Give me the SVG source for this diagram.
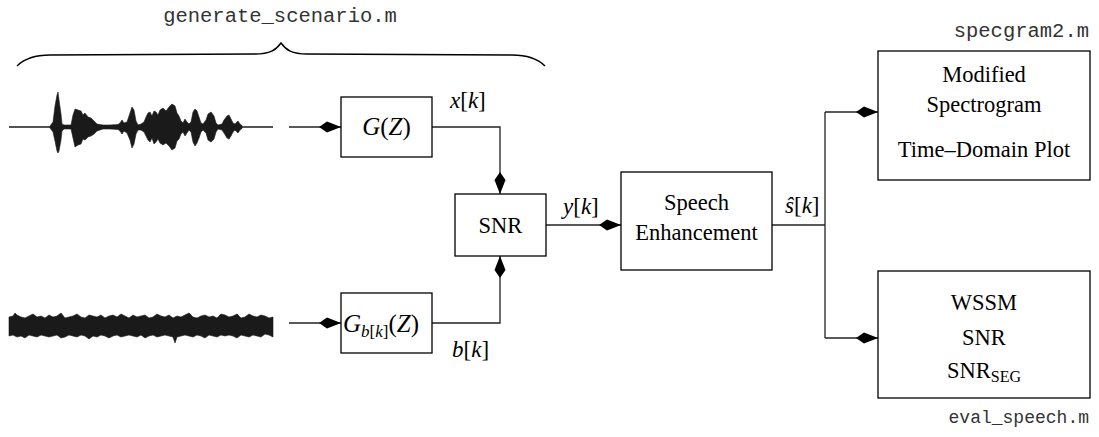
<svg xmlns="http://www.w3.org/2000/svg" width="1099" height="437" viewBox="0 0 1099 437">
<style>
.box{fill:#fff;stroke:#000;stroke-width:1.3}
.con{fill:none;stroke:#222;stroke-width:1.3}
.lbl{font-family:"Liberation Serif",serif;font-size:22.5px;fill:#000}
.big{font-family:"Liberation Serif",serif;font-size:25px;fill:#000}
.math{font-family:"Liberation Serif",serif;font-size:23px;fill:#000}
.mono{font-family:"Liberation Mono",monospace;font-size:20.5px;fill:#333}
.monos{font-family:"Liberation Mono",monospace;font-size:18px;fill:#333}
.wave{fill:#1a1a1a;stroke:#1a1a1a;stroke-width:0.6}
</style>
<defs>
<marker id="dia" markerUnits="userSpaceOnUse" markerWidth="24" markerHeight="12" refX="22" refY="6" orient="auto">
<path d="M0,6 L8,0.5 L22,6 L8,11.5 Z" fill="#000"/>
</marker>
</defs>

<g id="title">
<text class="mono" x="280" y="22" text-anchor="middle">generate_scenario.m</text>
<path d="M17,66 C25,58 35,55 50,55 L255,54 C270,54 276,50 281,43 C286,50 292,54 307,54 L512,55 C527,55 537,58 545,66" fill="none" stroke="#000" stroke-width="1.4"/>
</g>

<g id="speech-wave">
<line x1="9" y1="127" x2="273" y2="127" stroke="#1a1a1a" stroke-width="1.5"/>
<polygon class="wave" points="50,126 53,122 55,106 57,95 58,92 59,100 61,114 62,124 64,125 71,125 73,115 75,109 78,110 81,111 83,115 85,113 88,117 91,118 94,121 97,124 103,125 110,125 118,124.5 120,123 122,120 124,123 127,122 130,113 132,107 134,110 136,121 138,125 141,124 144,122 146,117 148,113 150,112 152,116 154,111 156,112 158,115 160,110 163,108 166,111 169,107 172,104 175,106 177,113 179,116 181,121 183,123 185,119 187,122 189,124 191,122 193,112 195,109 197,111 199,117 201,123 203,124 206,120 208,114 211,112 214,116 216,123 218,125 222,124 224,120 227,116 229,115 231,119 233,123 235,124 238,121 240,124 242,125.5 242,128.5 240,130 238,133 235,130 233,132 231,136 229,139 227,138 224,133 222,130 218,129 216,132 214,139 211,142 208,140 206,133 203,130 201,132 199,138 197,143 195,146 193,142 191,132 189,130 187,133 185,136 183,132 181,134 179,139 177,141 175,148 172,150 169,146 166,143 163,145 160,143 158,139 156,142 154,144 152,138 150,142 148,140 146,136 144,132 141,130 138,130 136,134 134,144 132,148 130,140 127,133 124,131 122,134 120,131 118,129.5 110,129 103,129 97,131 94,134 91,136 88,137 85,140 83,139 81,144 78,145 75,147 73,138 71,129 64,129 62,131 61,140 59,151 58,153 57,151 55,141 53,132 50,128"/>
</g>

<g id="noise-wave">
<polygon class="wave" points="9,317 13,316 15,313 17,315 21,317 25,318 29,316 33,314 37,317 41,316 45,318 49,315 53,317 57,316 61,313 65,318 69,317 73,316 77,314 81,317 85,318 89,315 93,316 97,317 101,315 105,318 109,316 113,315 117,317 121,314 125,316 129,318 133,315 137,317 141,316 145,315 149,318 153,317 157,314 161,316 165,317 169,315 173,318 177,316 181,317 185,315 189,313 193,317 197,318 201,316 205,315 209,317 213,316 217,318 221,314 225,315 229,317 233,316 237,314 241,318 245,317 249,314 253,316 257,317 261,315 265,316 269,318 273,317 273,337 269,335 265,334 261,337 257,336 253,335 249,337 245,336 241,335 237,338 233,336 229,335 225,336 221,335 217,337 213,336 209,335 205,338 201,336 197,335 193,337 189,336 185,335 181,336 177,337 175,343 173,337 169,336 165,335 161,336 157,337 153,335 149,336 145,338 141,335 137,337 133,336 129,335 125,336 121,337 117,335 113,336 109,338 105,336 101,335 97,337 93,336 89,339 85,336 81,335 77,337 73,336 69,335 65,337 61,338 57,335 53,336 49,337 45,336 41,335 37,337 33,336 29,335 25,338 21,336 17,337 13,335 9,336"/>
</g>

<g id="connectors">
<line class="con" x1="289" y1="127" x2="341" y2="127" marker-end="url(#dia)"/>
<line class="con" x1="289" y1="323" x2="341" y2="323" marker-end="url(#dia)"/>
<polyline class="con" points="432,127 500,127 500,194" marker-end="url(#dia)"/>
<polyline class="con" points="432,323 500,323 500,256" marker-end="url(#dia)"/>
<line class="con" x1="546" y1="225" x2="621" y2="225" marker-end="url(#dia)"/>
<line class="con" x1="772" y1="225" x2="825" y2="225"/>
<line class="con" x1="825" y1="112" x2="825" y2="338"/>
<line class="con" x1="825" y1="112" x2="878" y2="112" marker-end="url(#dia)"/>
<line class="con" x1="825" y1="338" x2="878" y2="338" marker-end="url(#dia)"/>
<text class="math" x="450" y="108"><tspan font-style="italic">x</tspan>[<tspan font-style="italic">k</tspan>]</text>
<text class="math" x="452" y="357"><tspan font-style="italic">b</tspan>[<tspan font-style="italic">k</tspan>]</text>
<text class="math" x="563" y="214"><tspan font-style="italic">y</tspan>[<tspan font-style="italic">k</tspan>]</text>
<text class="math" x="785" y="213"><tspan font-style="italic">ŝ</tspan>[<tspan font-style="italic">k</tspan>]</text>
</g>

<g id="gz">
<rect class="box" x="341" y="97" width="91" height="60"/>
<text class="big" x="386.5" y="135" text-anchor="middle"><tspan font-style="italic">G</tspan>(<tspan font-style="italic">Z</tspan>)</text>
</g>

<g id="gbz">
<rect class="box" x="341" y="293" width="91" height="60"/>
<text class="big" x="343" y="332"><tspan font-style="italic">G</tspan><tspan font-size="17" dy="5" font-style="italic">b</tspan><tspan font-size="17">[</tspan><tspan font-size="17" font-style="italic">k</tspan><tspan font-size="17">]</tspan><tspan dy="-5">(</tspan><tspan font-style="italic">Z</tspan>)</text>
</g>

<g id="snr">
<rect class="box" x="455" y="194" width="91" height="62"/>
<text class="lbl" x="500.5" y="233" text-anchor="middle">SNR</text>
</g>

<g id="enh">
<rect class="box" x="621" y="172" width="151" height="98"/>
<text class="lbl" x="696.5" y="210" text-anchor="middle">Speech</text>
<text class="lbl" x="696.5" y="240" text-anchor="middle">Enhancement</text>
</g>

<g id="spec">
<text class="mono" x="1089" y="37" text-anchor="end">specgram2.m</text>
<rect class="box" x="878" y="51" width="212" height="129"/>
<text class="lbl" x="984" y="82" text-anchor="middle">Modified</text>
<text class="lbl" x="984" y="112" text-anchor="middle">Spectrogram</text>
<text class="lbl" x="984" y="157" text-anchor="middle">Time–Domain Plot</text>
</g>

<g id="eval">
<rect class="box" x="878" y="271" width="212" height="127"/>
<text class="lbl" x="984" y="310" text-anchor="middle">WSSM</text>
<text class="lbl" x="984" y="345" text-anchor="middle">SNR</text>
<text class="lbl" x="984" y="378" text-anchor="middle">SNR<tspan font-size="16" dy="4">SEG</tspan></text>
<text class="monos" x="1089" y="423" text-anchor="end">eval_speech.m</text>
</g>
</svg>
